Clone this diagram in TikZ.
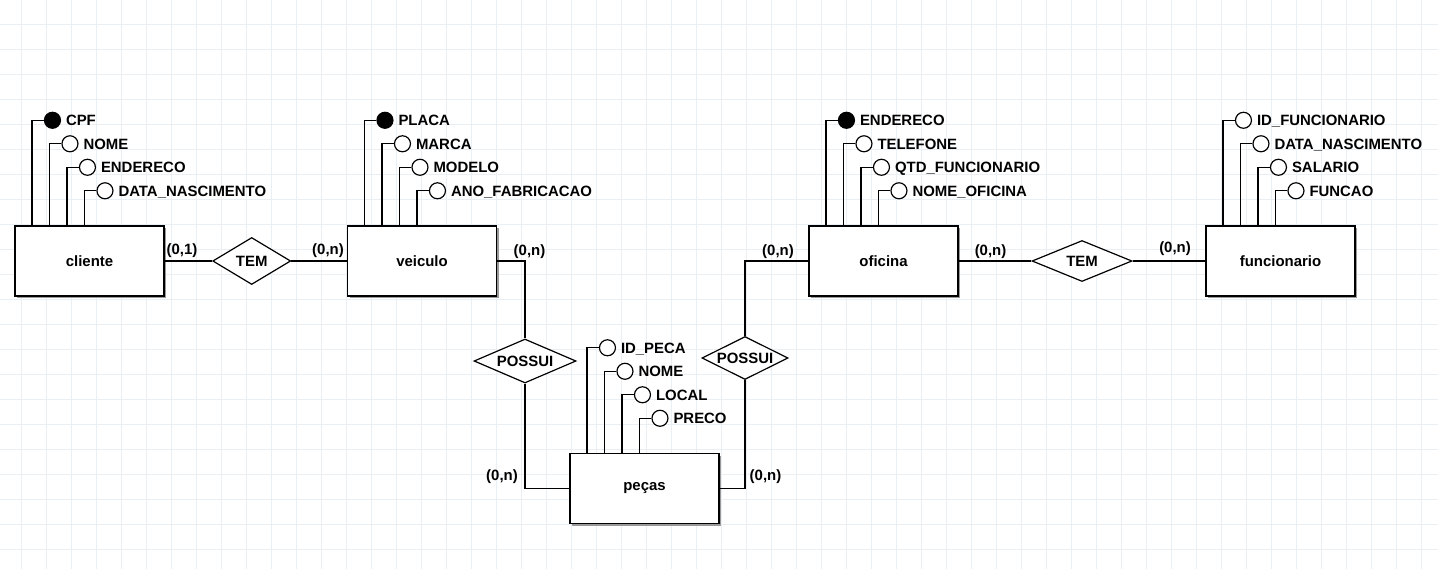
\documentclass[tikz,border=0pt]{standalone}
\usepackage{fontspec}
\setmainfont{Liberation Sans}
\usetikzlibrary{positioning, shapes.geometric, shadows}

\definecolor{grade}{RGB}{234,239,244}

\tikzset{
  every node/.style={font=\fontsize{11.2}{13}\selectfont\bfseries},
  entidade/.style={draw, line width=1.1pt, fill=white, minimum width=111.75pt, minimum height=52.5pt, inner sep=0pt,
    drop shadow={shadow xshift=1.8pt, shadow yshift=-1.8pt, fill=black!40, opacity=1}},
  relacao/.style={draw, diamond, aspect=2, line width=0.9pt, fill=white, inner sep=0pt, text height=7.9pt, text depth=0pt},
  atributo/.style={draw, circle, line width=0.9pt, fill=white, minimum size=12pt, inner sep=0pt},
  chave/.style={atributo, fill=black},
  rotulo/.style={inner sep=0pt, text height=7.9pt, text depth=0pt},
  card/.style={inner sep=0pt},
  ligacao/.style={line width=0.9pt}
}

\begin{document}
\begin{tikzpicture}[x=0.75pt, y=-0.75pt]
    \useasboundingbox (0,0) rectangle (1438,569);
    \fill[white] (0,0) rectangle (1438,569);

    % Draw grid
    \foreach \x in {21.5,46.5,...,1421.5} {
      \draw[grade, line width=0.6pt] (\x,0) -- (\x,569);
    }
    \foreach \y in {24.5,49.5,...,549.5} {
      \draw[grade, line width=0.6pt] (0,\y) -- (1438,\y);
    }

    % Entities
    \foreach \nome/\x/\y/\texto in {cliente/89.5/261/cliente, veiculo/422/261/veiculo, oficina/883.5/261/oficina, funcionario/1280.5/261/funcionario, pecas/644.5/488.5/peças} {
      \node[entidade] (\nome) at (\x,\y) {\texto};
    }

    % Relationships
    \foreach \nome/\x/\y/\w/\h/\texto in {tem1/251.7/261/58.5/35.25/TEM, tem2/1082/261/75/30.75/TEM, possui1/525/361/76.5/33/POSSUI, possui2/745/358/64.5/32.25/POSSUI} {
      \node[relacao, minimum width=\w pt, minimum height=\h pt] (\nome) at (\x,\y) {\texto};
    }

    % Attributes of each entity
    \foreach \ent/\primeiro/\lista in {
        cliente/chave/{CPF,NOME,ENDERECO,DATA\_NASCIMENTO},
        veiculo/chave/{PLACA,MARCA,MODELO,ANO\_FABRICACAO},
        oficina/chave/{ENDERECO,TELEFONE,QTD\_FUNCIONARIO,NOME\_OFICINA},
        funcionario/atributo/{ID\_FUNCIONARIO,DATA\_NASCIMENTO,SALARIO,FUNCAO},
        pecas/atributo/{ID\_PECA,NOME,LOCAL,PRECO}} {
      \foreach \attr [count=\i from 0] in \lista {
        \ifnum\i=0 \def\tipo{\primeiro}\else\def\tipo{atributo}\fi
        \coordinate (\ent-p\i) at ([shift={(17.7+17.5*\i,0)}]\ent.north west);
        \node[\tipo] (\ent-a\i) at ([shift={(38.2+17.5*\i,-105+23.5*\i)}]\ent.north west) {};
        \node[rotulo, right=3.5pt of \ent-a\i] (\ent-t\i) {\attr};
        \draw[ligacao] (\ent-a\i.west) -| (\ent-p\i);
      }
    }

    % Connections
    \draw[ligacao] (cliente.east) -- (tem1.west);
    \draw[ligacao] (tem1.east) -- (veiculo.west);
    \draw[ligacao] (veiculo.east) -| (possui1.north);
    \draw[ligacao] (possui1.south) |- (pecas.west);
    \draw[ligacao] (pecas.east) -| (possui2.south);
    \draw[ligacao] (possui2.north) |- (oficina.west);
    \draw[ligacao] (oficina.east) -- (tem2.west);
    \draw[ligacao] (tem2.east) -- (funcionario.west);

    % Cardinalities
    \foreach \i/\x/\y/\texto in {1/182/251/{(0,1)}, 2/328/251/{(0,n)}, 3/529.5/252/{(0,n)}, 4/778/252/{(0,n)}, 5/990.5/252/{(0,n)}, 6/1175/249/{(0,n)}, 7/502/477/{(0,n)}, 8/765.5/477/{(0,n)}} {
      \node[card] (card\i) at (\x,\y) {\texto};
    }
\end{tikzpicture}
\end{document}
